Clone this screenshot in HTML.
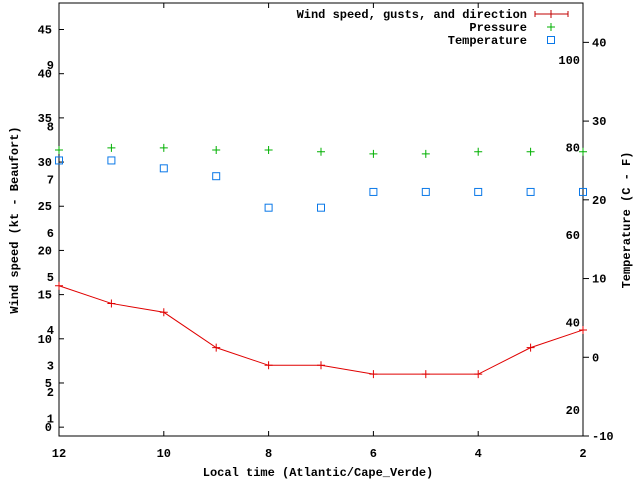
<!DOCTYPE html>
<html><head><meta charset="utf-8"><style>
body{margin:0;background:#fff}
svg text{font-family:"Liberation Mono","DejaVu Sans Mono",monospace;font-size:12px;font-weight:bold;fill:#000}
</style></head><body>
<svg id="chart" width="640" height="480" xmlns="http://www.w3.org/2000/svg">
<g id="axes"></g><g id="marks"></g><g id="legend"></g>
</svg>
<script>
const hours=[12,11,10,9,8,7,6,5,4,3,2];
const wind=[16,14,13,9,7,7,6,6,6,9,11];
const pressure=[1014.3,1015,1015,1014.3,1014.3,1013.7,1013,1013,1013.7,1013.7,1013.7];
const temperature=[25,25,24,23,19,19,21,21,21,21,21];
const ktTicks=[0,5,10,15,20,25,30,35,40,45];
const bftTicks=[[1,1],[2,4],[3,7],[4,11],[5,17],[6,22],[7,28],[8,34],[9,41]];
const cTicks=[-10,0,10,20,30,40];
const fTicks=[20,40,60,80,100];
const L=59,R=583,T=3,B=436;
const NS="http://www.w3.org/2000/svg";
const xS=i=>L+(R-L)*i/(hours.length-1);
const yK=k=>B-(k+1)*(B-T)/49;
const yC=c=>B-(c+10)*(B-T)/55;
const yF=f=>yC((f-32)*5/9);
const yP=p=>150-(p-1014.3)*3;
function el(t,a,p,txt){const e=document.createElementNS(NS,t);for(const k in a)e.setAttribute(k,a[k]);if(txt!==undefined)e.textContent=txt;p.appendChild(e);return e;}
const ax=document.getElementById('axes'),mk=document.getElementById('marks'),lg=document.getElementById('legend');
const frame=el('rect',{x:L,y:T,width:R-L,height:B-T,fill:'none',stroke:'#000','stroke-width':1},ax);

ktTicks.forEach(k=>{const y=yK(k);
 el('line',{x1:L,y1:y,x2:L+5,y2:y,stroke:'#000'},ax);
 const t=el('text',{x:L-7,y:y+4,'text-anchor':'end'},ax,k);
 });
bftTicks.forEach(b=>{const t=el('text',{x:L-5,y:yK(b[1])+4,'text-anchor':'end'},ax,b[0]);
 });
cTicks.forEach(c=>{const y=yC(c);
 el('line',{x1:R,y1:y,x2:R+6,y2:y,stroke:'#000'},ax);
 const t=el('text',{x:R+9,y:y+4},ax,c);
 });
fTicks.forEach(f=>{const t=el('text',{x:R-3,y:yF(f)+4,'text-anchor':'end'},ax,f);
 });
hours.forEach((h,i)=>{if(i%2)return;const x=xS(i);
 el('line',{x1:x,y1:B,x2:x,y2:B-5,stroke:'#000'},ax);el('line',{x1:x,y1:T,x2:x,y2:T+5,stroke:'#000'},ax);
 const t=el('text',{x:x,y:B+21,'text-anchor':'middle'},ax,h);
 });
let t=el('text',{x:318,y:476,'text-anchor':'middle'},ax,'Local time (Atlantic/Cape_Verde)');

t=el('text',{x:18,y:220,'text-anchor':'middle',transform:'rotate(-90 18 220)'},ax,'Wind speed (kt - Beaufort)');

t=el('text',{x:630,y:220,'text-anchor':'middle',transform:'rotate(-90 630 220)'},ax,'Temperature (C - F)');

// wind line
const wl=el('polyline',{points:wind.map((w,i)=>xS(i)+','+yK(w)).join(' '),fill:'none',stroke:'#e00000','stroke-width':1},mk);

function plus(x,y,c,p){el('path',{d:`M${x-4},${y}h8M${x},${y-4}v8`,stroke:c,'stroke-width':1},p);}
wind.forEach((w,i)=>{const g=el('g',{},mk);plus(xS(i),yK(w),'#e00000',g);});
pressure.forEach((p,i)=>{const g=el('g',{},mk);plus(xS(i),yP(p),'#00b000',g);});
temperature.forEach((c,i)=>{const r=el('rect',{x:xS(i)-3.5,y:yC(c)-3.5,width:7,height:7,fill:'none',stroke:'#0a78e8','stroke-width':1},mk);
 });
// legend
const items=[['Wind speed, gusts, and direction',14,'w'],['Pressure',27,'p'],['Temperature',40,'t']];
items.forEach(it=>{const g=el('g',{},lg);
 el('text',{x:527,y:it[1]+4,'text-anchor':'end'},g,it[0]);
 if(it[2]=='w'){el('path',{d:`M535,${it[1]}h33M535,${it[1]-3}v6M568,${it[1]-3}v6M551,${it[1]-4}v8`,stroke:'#c00000'},g);}
 else if(it[2]=='p'){plus(551,it[1],'#00b000',g);}
 else el('rect',{x:547.5,y:it[1]-3.5,width:7,height:7,fill:'none',stroke:'#0a78e8'},g);});
</script>
</body></html>
